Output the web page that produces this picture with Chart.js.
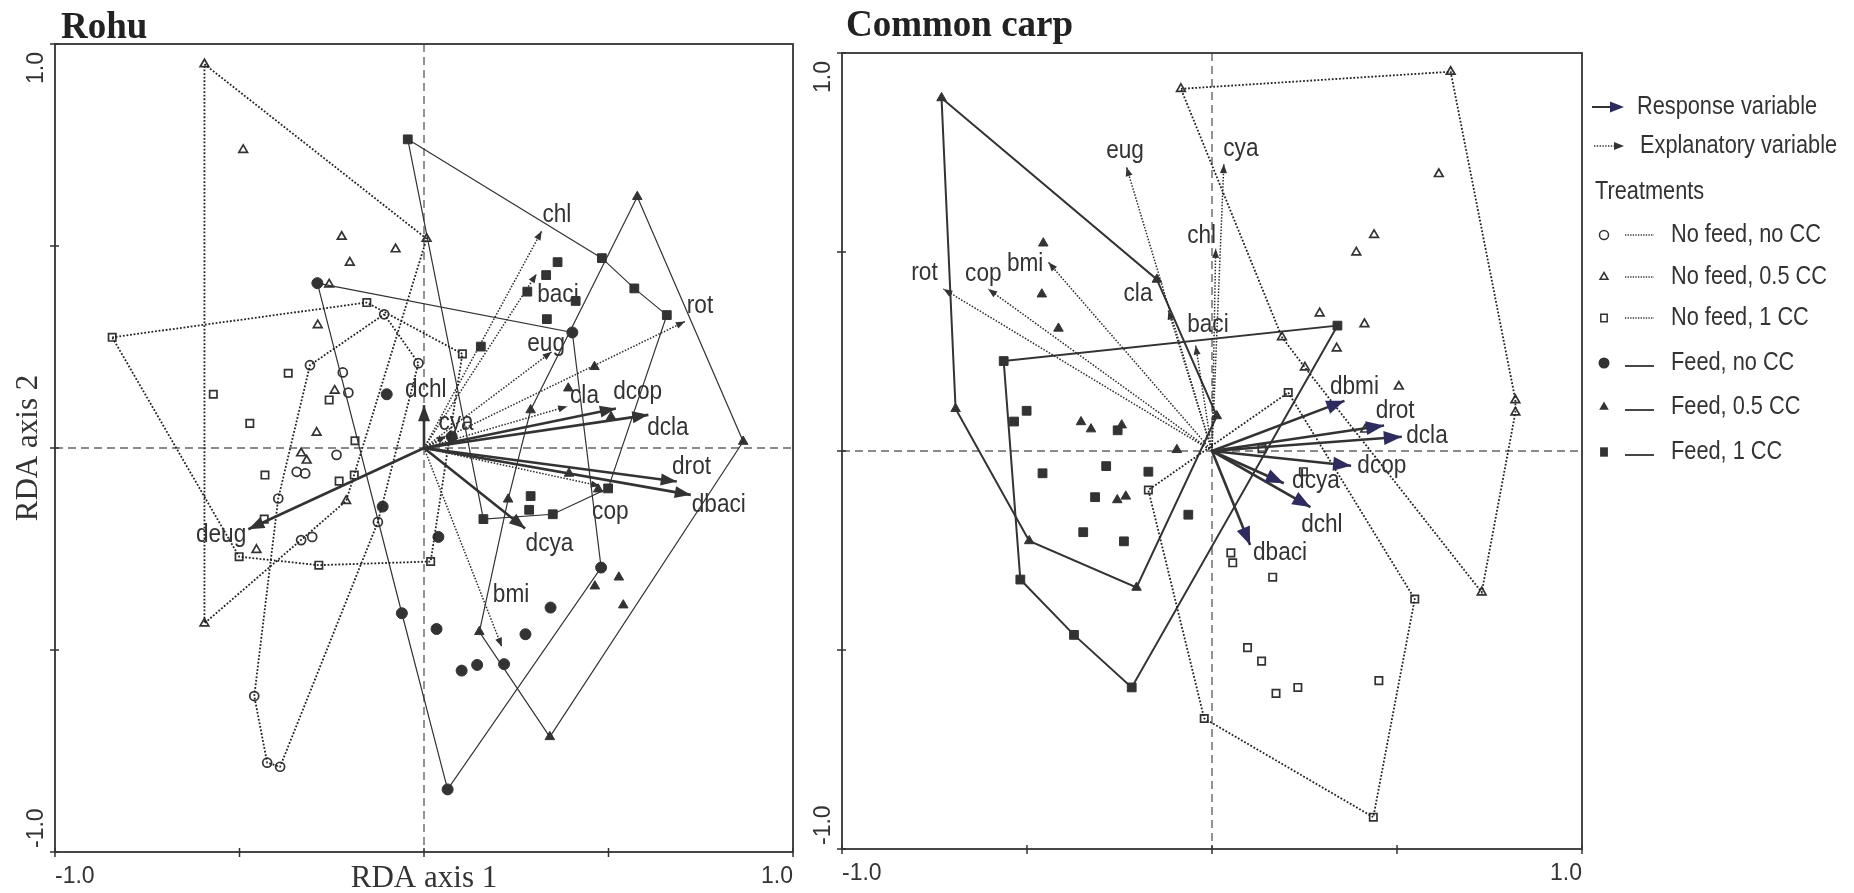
<!DOCTYPE html>
<html>
<head>
<meta charset="UTF-8">
<title>RDA biplots</title>
<style>
	body {margin:0; background:#fff;}
	canvas {position:absolute; left:0; top:0;}
</style>
</head>
<body>
	<canvas id="rohuChart" width="1854" height="893"></canvas>
	<canvas id="carpChart" width="1854" height="893"></canvas>
<script src="https://cdn.jsdelivr.net/npm/chart.js"></script>
<script>
	// treatments (same order in both panels)
	const treatments = ['No feed, no CC', 'No feed, 0.5 CC', 'No feed, 1 CC', 'Feed, no CC', 'Feed, 0.5 CC', 'Feed, 1 CC'];
	const axisTicks = [-1, -0.5, 0, 0.5, 1];

	// Rohu - sample scores, hull vertices first, then the other samples
	const rohuHull = [
		[[-0.108,0.331],[-0.015,0.210],[-0.125,-0.183],[-0.390,-0.789],[-0.425,-0.779],[-0.460,-0.614],[-0.395,-0.125],[-0.309,0.205]],
		[[-0.595,0.950],[0.007,0.518],[-0.211,-0.131],[-0.595,-0.434]],
		[[-0.845,0.274],[-0.155,0.360],[0.104,0.233],[0.018,-0.281],[-0.285,-0.290],[-0.501,-0.269]],
		[[-0.289,0.408],[0.402,0.286],[0.480,-0.296],[0.064,-0.845],[-0.060,-0.409]],
		[[0.578,0.622],[0.865,0.016],[0.341,-0.715],[0.150,-0.455],[0.228,-0.127],[0.289,0.094]],
		[[-0.044,0.764],[0.482,0.470],[0.570,0.395],[0.658,0.329],[0.499,-0.100],[0.349,-0.164],[0.161,-0.176]]
	];
	const rohuMore = [
		[[-0.220,0.187],[-0.205,0.137],[-0.237,-0.017],[-0.345,-0.059],[-0.322,-0.063],[-0.333,-0.228],[-0.303,-0.220]],
		[[-0.490,0.738],[-0.223,0.523],[-0.077,0.492],[-0.201,0.459],[-0.257,0.405],[-0.288,0.304],[-0.242,0.142],[-0.291,0.038],[-0.333,-0.013],[-0.318,-0.031],[-0.454,-0.252]],
		[[-0.368,0.185],[-0.571,0.133],[-0.472,0.061],[-0.257,0.119],[-0.187,0.018],[-0.431,-0.067],[-0.230,-0.082],[-0.189,-0.067],[-0.433,-0.176]],
		[[-0.101,0.133],[0.075,0.028],[-0.112,-0.145],[0.039,-0.220],[0.034,-0.448],[0.102,-0.551],[0.144,-0.537],[0.217,-0.535],[0.275,-0.461],[0.343,-0.395]],
		[[0.462,0.201],[0.391,0.148],[0.507,0.077],[0.393,-0.063],[0.472,-0.102],[0.463,-0.342],[0.528,-0.320],[0.540,-0.389]],
		[[0.362,0.460],[0.331,0.428],[0.280,0.387],[0.411,0.364],[0.333,0.319],[0.154,0.251],[0.289,-0.119],[0.285,-0.153]]
	];
	const rohuResp = ['dchl','deug','dcop','dcla','drot','dbaci','dcya'];
	const rohuRespTip = [[0,0.106],[-0.476,-0.201],[0.520,0.098],[0.608,0.082],[0.685,-0.083],[0.723,-0.116],[0.274,-0.199]];
	const rohuRespLab = [[0.005,0.144],[-0.550,-0.215],[0.579,0.139],[0.661,0.050],[0.725,-0.046],[0.799,-0.141],[0.340,-0.238]];
	const rohuExpl = ['chl','baci','eug','rot','cla','cya','cop','bmi'];
	const rohuExplTip = [[0.319,0.537],[0.305,0.431],[0.346,0.238],[0.707,0.313],[0.388,0.103],[0.060,0.030],[0.477,-0.094],[0.211,-0.492]];
	const rohuExplLab = [[0.360,0.578],[0.363,0.379],[0.331,0.257],[0.748,0.351],[0.435,0.129],[0.087,0.062],[0.505,-0.158],[0.236,-0.364]];

	// Common carp
	const carpHull = [
		[],
		[[-0.084,0.910],[0.645,0.953],[0.820,0.128],[0.820,0.097],[0.729,-0.355],[0.251,0.210],[0.189,0.286]],
		[[0.206,0.147],[0.548,-0.372],[0.436,-0.920],[-0.021,-0.672],[-0.172,-0.098]],
		[],
		[[-0.731,0.887],[-0.149,0.431],[0.013,0.088],[-0.204,-0.343],[-0.494,-0.226],[-0.693,0.106]],
		[[-0.563,0.226],[0.339,0.315],[-0.217,-0.594],[-0.373,-0.462],[-0.518,-0.323]]
	];
	const carpMore = [
		[],
		[[0.613,0.696],[0.438,0.543],[0.390,0.499],[0.291,0.346],[0.412,0.319],[0.337,0.258],[0.505,0.162],[0.414,0.054]],
		[[0.135,0.006],[0.247,-0.052],[0.051,-0.256],[0.056,-0.281],[0.164,-0.317],[0.096,-0.494],[0.134,-0.528],[0.173,-0.609],[0.232,-0.594],[0.451,-0.577]],
		[],
		[[-0.456,0.522],[-0.460,0.394],[-0.415,0.308],[-0.354,0.073],[-0.327,0.055],[-0.244,0.065],[-0.095,0.003],[-0.256,-0.123],[-0.233,-0.114]],
		[[-0.501,0.101],[-0.535,0.074],[-0.255,0.052],[-0.458,-0.056],[-0.286,-0.038],[-0.172,-0.052],[-0.316,-0.116],[-0.064,-0.160],[-0.348,-0.204],[-0.238,-0.227]]
	];
	const carpResp = ['dbmi','drot','dcla','dcop','dcya','dchl','dbaci'];
	const carpRespTip = [[0.358,0.126],[0.465,0.064],[0.513,0.036],[0.376,-0.037],[0.194,-0.081],[0.266,-0.141],[0.103,-0.236]];
	const carpRespLab = [[0.385,0.162],[0.495,0.101],[0.581,0.038],[0.459,-0.038],[0.281,-0.075],[0.297,-0.186],[0.184,-0.255]];
	const carpExpl = ['rot','cop','bmi','eug','cla','chl','cya','baci'];
	const carpExplTip = [[-0.726,0.407],[-0.605,0.407],[-0.442,0.474],[-0.231,0.713],[-0.118,0.353],[0.010,0.508],[0.032,0.721],[-0.044,0.265]];
	const carpExplLab = [[-0.777,0.447],[-0.618,0.445],[-0.505,0.470],[-0.235,0.754],[-0.200,0.394],[-0.028,0.540],[0.078,0.759],[-0.011,0.317]];

	const INK = '#333333';
	const NAVY = '#2e2b5e';
	const SANS = '"Liberation Sans", Arial, sans-serif';
	const SERIF = '"Liberation Serif", "Times New Roman", serif';
	const marks = ['circle','triangle','rect','circle','triangle','rect'];
	const markSize = [4.5, 5, 5.2, 5.5, 5.5, 6.2];

	function xy(list) { return list.map(p => ({x:p[0], y:p[1]})); }

	// hull lines + sample markers + arrow shafts
	function makeSets(hull, more, feedWidth, respTip, explTip, respWidth) {
		let sets = [];
		respTip.forEach(t => sets.push({data: xy([[0,0], t]), showLine:true, pointRadius:0,
			borderColor:INK, borderWidth:respWidth}));
		explTip.forEach(t => sets.push({data: xy([[0,0], t]), showLine:true, pointRadius:0,
			borderColor:'#2a2a2a', borderWidth:1.5, borderDash:[1.5,1.6]}));
		hull.forEach((h, i) => {
			if (!h.length) return;
			const feed = i >= 3;
			sets.push({data: xy(h.concat([h[0]])), showLine:true, pointRadius:0, borderColor: feed ? INK : '#222',
				borderWidth: feed ? feedWidth : 1.8, borderDash: feed ? [] : [1.8,1.8]});
			sets.push({data: xy(h.concat(more[i])), showLine:false, pointStyle:marks[i], pointRadius:markSize[i],
				backgroundColor: feed ? INK : 'rgba(0,0,0,0)', borderColor:INK, borderWidth: feed ? 1 : 1.7});
		});
		return sets;
	}

	function sansText(ctx, text, x, y, size, align) {
		ctx.save();
		ctx.translate(x, y);
		ctx.scale(0.87, 1);
		ctx.font = size + 'px ' + SANS;
		ctx.textAlign = align;
		ctx.textBaseline = 'middle';
		ctx.fillStyle = INK;
		ctx.fillText(text, 0, 0);
		ctx.restore();
	}

	function head(ctx, x0, y0, x1, y1, len, half, color) {
		const a = Math.atan2(y1 - y0, x1 - x0);
		ctx.save();
		ctx.translate(x1, y1);
		ctx.rotate(a);
		ctx.beginPath();
		ctx.moveTo(0, 0);
		ctx.lineTo(-len, -half);
		ctx.lineTo(-len, half);
		ctx.closePath();
		ctx.fillStyle = color;
		ctx.fill();
		ctx.restore();
	}

	function mark(ctx, style, filled, x, y, r) {
		ctx.beginPath();
		if (style == 'circle') ctx.arc(x, y, r, 0, Math.PI * 2);
		else if (style == 'triangle') { ctx.moveTo(x, y - r); ctx.lineTo(x + r * 0.87, y + r * 0.5); ctx.lineTo(x - r * 0.87, y + r * 0.5); ctx.closePath(); }
		else ctx.rect(x - r * 0.71, y - r * 0.85, r * 1.42, r * 1.7);
		if (filled) { ctx.fillStyle = INK; ctx.fill(); }
		else { ctx.strokeStyle = INK; ctx.lineWidth = 1.5; ctx.stroke(); }
	}

	const decor = {
		id: 'decor',
		beforeDatasetsDraw(chart, args, o) {
			const {ctx, chartArea:a, scales:{x, y}} = chart;
			ctx.save();
			ctx.strokeStyle = '#666';
			ctx.lineWidth = 1.4;
			ctx.setLineDash([8, 5]);
			ctx.beginPath();
			ctx.moveTo(x.getPixelForValue(0), a.top); ctx.lineTo(x.getPixelForValue(0), a.bottom);
			ctx.moveTo(a.left, y.getPixelForValue(0)); ctx.lineTo(a.right, y.getPixelForValue(0));
			ctx.stroke();
			ctx.restore();
		},
		afterDatasetsDraw(chart, args, o) {
			const {ctx, chartArea:a, scales:{x, y}} = chart;
			const ox = x.getPixelForValue(0), oy = y.getPixelForValue(0);
			ctx.save();
			// arrow heads and names
			o.respTip.forEach((t, i) => {
				head(ctx, ox, oy, x.getPixelForValue(t[0]), y.getPixelForValue(t[1]), o.headLen, o.headHalf, o.headColor);
				sansText(ctx, o.resp[i], x.getPixelForValue(o.respLab[i][0]), y.getPixelForValue(o.respLab[i][1]), 26, 'center');
			});
			o.explTip.forEach((t, i) => {
				head(ctx, ox, oy, x.getPixelForValue(t[0]), y.getPixelForValue(t[1]), 9, 3.5, INK);
				sansText(ctx, o.expl[i], x.getPixelForValue(o.explLab[i][0]), y.getPixelForValue(o.explLab[i][1]), 26, 'center');
			});
			// frame
			ctx.strokeStyle = INK;
			ctx.lineWidth = 1.8;
			ctx.strokeRect(a.left, a.top, a.right - a.left, a.bottom - a.top);
			// ticks
			ctx.lineWidth = 1.5;
			ctx.beginPath();
			axisTicks.forEach(v => {
				const px = x.getPixelForValue(v), py = y.getPixelForValue(v);
				ctx.moveTo(px, a.bottom - 4); ctx.lineTo(px, a.bottom + 5);
				ctx.moveTo(a.left - 5, py); ctx.lineTo(a.left + 4, py);
			});
			ctx.stroke();
			// tick labels (only the ends)
			ctx.fillStyle = INK;
			ctx.font = '23px ' + SANS;
			ctx.textBaseline = 'alphabetic';
			ctx.textAlign = 'left';
			ctx.fillText('-1.0', x.getPixelForValue(-1), a.bottom + 31);
			ctx.textAlign = 'right';
			ctx.fillText('1.0', x.getPixelForValue(1), a.bottom + 31);
			ctx.save();
			ctx.translate(a.left - 12, y.getPixelForValue(1) + 8);
			ctx.rotate(-Math.PI / 2);
			ctx.textAlign = 'right';
			ctx.fillText('1.0', 0, 0);
			ctx.restore();
			ctx.save();
			ctx.translate(a.left - 12, y.getPixelForValue(-1) - 4);
			ctx.rotate(-Math.PI / 2);
			ctx.textAlign = 'left';
			ctx.fillText('-1.0', 0, 0);
			ctx.restore();
			// title
			ctx.font = 'bold 37px ' + SERIF;
			ctx.textAlign = 'left';
			ctx.fillStyle = '#222';
			ctx.fillText(o.title, o.titleX, o.titleY);
			if (o.axisTitles) {
				ctx.font = '31px ' + SERIF;
				ctx.fillStyle = INK;
				ctx.textAlign = 'center';
				ctx.fillText('RDA axis 1', ox, a.bottom + 35);
				ctx.save();
				ctx.translate(37, oy);
				ctx.rotate(-Math.PI / 2);
				ctx.fillText('RDA axis 2', 0, 0);
				ctx.restore();
			}
			if (o.legend) {
				const lx = a.right + 10;
				ctx.strokeStyle = INK;
				ctx.lineWidth = 2;
				ctx.beginPath(); ctx.moveTo(lx, 107); ctx.lineTo(lx + 22, 107); ctx.stroke();
				head(ctx, lx, 107, lx + 32, 107, 14, 5.5, NAVY);
				sansText(ctx, 'Response variable', lx + 45, 107, 25, 'left');
				ctx.lineWidth = 1.4;
				ctx.setLineDash([1.4, 1.4]);
				ctx.beginPath(); ctx.moveTo(lx + 2, 146); ctx.lineTo(lx + 24, 146); ctx.stroke();
				ctx.setLineDash([]);
				head(ctx, lx, 146, lx + 32, 146, 10, 4, INK);
				sansText(ctx, 'Explanatory variable', lx + 48, 146, 25, 'left');
				sansText(ctx, 'Treatments', lx + 3, 192, 25, 'left');
				const rows = [235, 277, 318, 363, 407, 452];
				treatments.forEach((t, i) => {
					const feed = i >= 3;
					mark(ctx, marks[i], feed, lx + 12, rows[i], feed ? 5.5 : 4.5);
					ctx.strokeStyle = INK;
					ctx.lineWidth = feed ? 1.8 : 1.4;
					ctx.setLineDash(feed ? [] : [1.3, 1.3]);
					ctx.beginPath(); ctx.moveTo(lx + 33, rows[i] + (feed ? 3 : 0)); ctx.lineTo(lx + 62, rows[i] + (feed ? 3 : 0)); ctx.stroke();
					ctx.setLineDash([]);
					sansText(ctx, t, lx + 79, rows[i], 25, 'left');
				});
			}
			ctx.restore();
		}
	};

	function biplot(id, sets, pad, deco) {
		return new Chart(document.getElementById(id), {
			type: 'scatter',
			data: { datasets: sets },
			options: {
				responsive: false,
				animation: false,
				devicePixelRatio: 1,
				layout: { padding: pad },
				scales: {
					x: { type:'linear', min:-1, max:1, display:false },
					y: { type:'linear', min:-1, max:1, display:false }
				},
				plugins: { legend:{display:false}, tooltip:{enabled:false}, decor: deco }
			},
			plugins: [decor]
		});
	}

	biplot('rohuChart', makeSets(rohuHull, rohuMore, 1.2, rohuRespTip, rohuExplTip, 2.6),
		{left:55, right:1061, top:44, bottom:41},
		{title:'Rohu', titleX:61, titleY:38, axisTitles:true, legend:false,
		 resp:rohuResp, respTip:rohuRespTip, respLab:rohuRespLab,
		 expl:rohuExpl, explTip:rohuExplTip, explLab:rohuExplLab,
		 headLen:16, headHalf:6, headColor:INK});

	biplot('carpChart', makeSets(carpHull, carpMore, 2, carpRespTip, carpExplTip, 2.6),
		{left:842, right:272, top:53, bottom:44},
		{title:'Common carp', titleX:846, titleY:36, axisTitles:false, legend:true,
		 resp:carpResp, respTip:carpRespTip, respLab:carpRespLab,
		 expl:carpExpl, explTip:carpExplTip, explLab:carpExplLab,
		 headLen:18, headHalf:7, headColor:NAVY});
</script>
</body>
</html>
